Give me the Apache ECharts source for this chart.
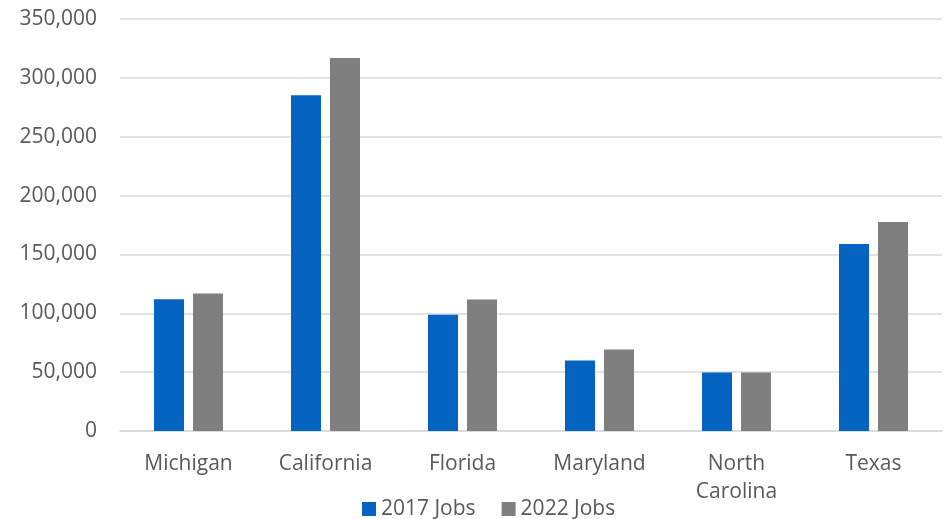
<!DOCTYPE html>
<html>
<head>
<meta charset="utf-8">
<script src="https://cdn.jsdelivr.net/npm/echarts@6/dist/echarts.min.js"></script>
<style>
  html, body { margin: 0; padding: 0; background: #fff; }
  #chart { width: 949px; height: 519px; }
</style>
</head>
<body>
<div id="chart"></div>
<script>
// Job counts by state, 2017 vs 2022
const states = ['Michigan', 'California', 'Florida', 'Maryland', 'North Carolina', 'Texas'];
const jobs2017 = [112000, 285300, 98700, 59900, 49700, 158800];
const jobs2022 = [116900, 316800, 111800, 69300, 49600, 177500];
const yTicks = { min: 0, max: 350000, interval: 50000 };

const font = '"Open Sans", "Noto Sans", sans-serif';
const textColor = '#595959';

const chart = echarts.init(document.getElementById('chart'));
chart.setOption({
  animation: false,
  grid: { left: 120, right: 7, top: 19, bottom: 88 },
  legend: {
    top: 495,
    left: 362,
    padding: 0,
    itemWidth: 14,
    itemHeight: 14,
    itemGap: 26,
    icon: 'rect',
    textStyle: { color: textColor, fontSize: 21, fontFamily: font, lineHeight: 28 },
    data: ['2017 Jobs', '2022 Jobs']
  },
  xAxis: {
    type: 'category',
    data: states,
    axisLine: { show: true, lineStyle: { color: '#d9d9d9', width: 1.5 } },
    axisTick: { show: false },
    axisLabel: {
      color: textColor,
      fontSize: 21,
      fontFamily: font,
      lineHeight: 28,
      margin: 19,
      interval: 0,
      formatter: v => v.replace(' ', '\n')
    }
  },
  yAxis: {
    type: 'value',
    min: yTicks.min,
    max: yTicks.max,
    interval: yTicks.interval,
    axisLine: { show: false },
    axisTick: { show: false },
    splitLine: { lineStyle: { color: '#d9d9d9', width: 1.5 } },
    axisLabel: {
      color: textColor,
      fontSize: 21,
      fontFamily: font,
      margin: 23,
      formatter: v => v.toLocaleString('en-US')
    }
  },
  series: [
    {
      name: '2017 Jobs',
      type: 'bar',
      data: jobs2017,
      barWidth: 30,
      barGap: '30%',
      itemStyle: { color: '#0563C1' }
    },
    {
      name: '2022 Jobs',
      type: 'bar',
      data: jobs2022,
      barWidth: 30,
      barGap: '30%',
      itemStyle: { color: '#7F7F7F' }
    }
  ]
});
</script>
</body>
</html>
